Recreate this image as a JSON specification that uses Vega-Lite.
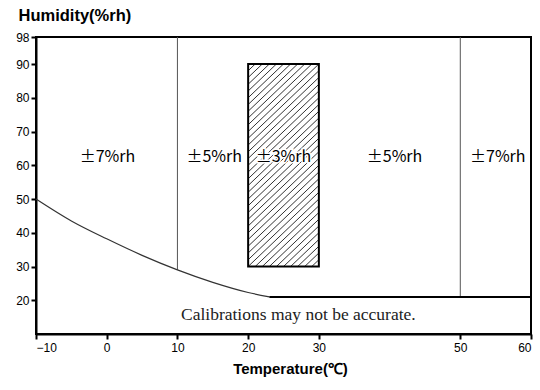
{
  "$schema": "https://vega.github.io/schema/vega-lite/v6.json",
  "width": 495,
  "height": 297,
  "autosize": "none",
  "padding": {"left": 36, "top": 37, "right": 9, "bottom": 56},
  "background": "white",
  "config": {
    "view": {"stroke": "black", "strokeWidth": 2},
    "axis": {
      "grid": false,
      "domainColor": "black",
      "domainWidth": 2,
      "tickColor": "black",
      "tickWidth": 2,
      "tickSize": 5,
      "labelFont": "Liberation Sans",
      "labelFontSize": 12,
      "labelColor": "black",
      "labelOverlap": false,
      "titleFont": "Liberation Sans",
      "titleFontSize": 15,
      "titleFontWeight": "bold",
      "titleColor": "black"
    }
  },
  "datasets": {
    "curve": [
      {"x": -10, "y": 50}, {"x": -5, "y": 43.5}, {"x": 0, "y": 38.2}, {"x": 5, "y": 33.3},
      {"x": 10, "y": 29}, {"x": 15, "y": 25.3}, {"x": 20, "y": 22.3}, {"x": 23, "y": 21}
    ],
    "flat": [{"x": 23, "y": 21}, {"x": 60, "y": 21}],
    "vlines": [{"x": 10, "y": 29, "y2": 98}, {"x": 50, "y": 21, "y2": 98}],
    "box": [{"x": 20, "x2": 30, "y": 30, "y2": 90}],
    "hatch": [
      {"x": 29, "y": 30, "x2": 30, "y2": 32},
      {"x": 28, "y": 30, "x2": 30, "y2": 34},
      {"x": 27, "y": 30, "x2": 30, "y2": 36},
      {"x": 26, "y": 30, "x2": 30, "y2": 38},
      {"x": 25, "y": 30, "x2": 30, "y2": 40},
      {"x": 24, "y": 30, "x2": 30, "y2": 42},
      {"x": 23, "y": 30, "x2": 30, "y2": 44},
      {"x": 22, "y": 30, "x2": 30, "y2": 46},
      {"x": 21, "y": 30, "x2": 30, "y2": 48},
      {"x": 20, "y": 30, "x2": 30, "y2": 50},
      {"x": 20, "y": 32, "x2": 30, "y2": 52},
      {"x": 20, "y": 34, "x2": 30, "y2": 54},
      {"x": 20, "y": 36, "x2": 30, "y2": 56},
      {"x": 20, "y": 38, "x2": 30, "y2": 58},
      {"x": 20, "y": 40, "x2": 30, "y2": 60},
      {"x": 20, "y": 42, "x2": 30, "y2": 62},
      {"x": 20, "y": 44, "x2": 30, "y2": 64},
      {"x": 20, "y": 46, "x2": 30, "y2": 66},
      {"x": 20, "y": 48, "x2": 30, "y2": 68},
      {"x": 20, "y": 50, "x2": 30, "y2": 70},
      {"x": 20, "y": 52, "x2": 30, "y2": 72},
      {"x": 20, "y": 54, "x2": 30, "y2": 74},
      {"x": 20, "y": 56, "x2": 30, "y2": 76},
      {"x": 20, "y": 58, "x2": 30, "y2": 78},
      {"x": 20, "y": 60, "x2": 30, "y2": 80},
      {"x": 20, "y": 62, "x2": 30, "y2": 82},
      {"x": 20, "y": 64, "x2": 30, "y2": 84},
      {"x": 20, "y": 66, "x2": 30, "y2": 86},
      {"x": 20, "y": 68, "x2": 30, "y2": 88},
      {"x": 20, "y": 70, "x2": 30, "y2": 90},
      {"x": 20, "y": 72, "x2": 29, "y2": 90},
      {"x": 20, "y": 74, "x2": 28, "y2": 90},
      {"x": 20, "y": 76, "x2": 27, "y2": 90},
      {"x": 20, "y": 78, "x2": 26, "y2": 90},
      {"x": 20, "y": 80, "x2": 25, "y2": 90},
      {"x": 20, "y": 82, "x2": 24, "y2": 90},
      {"x": 20, "y": 84, "x2": 23, "y2": 90},
      {"x": 20, "y": 86, "x2": 22, "y2": 90},
      {"x": 20, "y": 88, "x2": 21, "y2": 90}
    ],
    "labels": [
      {"x": 0.1, "y": 62.3, "t": "±7%rh"},
      {"x": 15.2, "y": 62.3, "t": "±5%rh"},
      {"x": 25, "y": 62.3, "t": "±3%rh"},
      {"x": 40.7, "y": 62.3, "t": "±5%rh"},
      {"x": 55.3, "y": 62.3, "t": "±7%rh"}
    ],
    "note": [{"x": 27.1, "y": 15.6, "t": "Calibrations may not be accurate."}]
  },
  "layer": [
    {
      "data": {"name": "hatch"},
      "mark": {"type": "rule", "color": "#333333", "strokeWidth": 1},
      "encoding": {
        "x": {"field": "x", "type": "quantitative", "scale": {"domain": [-10, 60], "nice": false, "zero": false},
          "axis": {"values": [-10, 0, 10, 20, 30, 50, 60], "tickCount": 30, "title": "Temperature(℃)", "titleX": 254, "titleY": 34, "titleBaseline": "middle", "labelPadding": 3}},
        "y": {"field": "y", "type": "quantitative", "scale": {"domain": [10, 98], "nice": false, "zero": false},
          "axis": {"values": [20, 30, 40, 50, 60, 70, 80, 90, 98], "tickCount": 30, "title": "Humidity(%rh)", "titleFontSize": 16.5, "titleAngle": 0, "titleAlign": "left", "titleBaseline": "middle", "titleX": -18, "titleY": -22, "labelPadding": 2}},
        "x2": {"field": "x2"},
        "y2": {"field": "y2"}
      }
    },
    {
      "data": {"name": "box"},
      "mark": {"type": "rect", "fill": null, "fillOpacity": 0, "stroke": "black", "strokeWidth": 2},
      "encoding": {
        "x": {"field": "x", "type": "quantitative"},
        "x2": {"field": "x2"},
        "y": {"field": "y", "type": "quantitative"},
        "y2": {"field": "y2"}
      }
    },
    {
      "data": {"name": "vlines"},
      "mark": {"type": "rule", "color": "#555555", "strokeWidth": 1},
      "encoding": {
        "x": {"field": "x", "type": "quantitative"},
        "y": {"field": "y", "type": "quantitative"},
        "y2": {"field": "y2"}
      }
    },
    {
      "data": {"name": "curve"},
      "mark": {"type": "line", "color": "#333333", "strokeWidth": 1.2, "interpolate": "monotone"},
      "encoding": {
        "x": {"field": "x", "type": "quantitative"},
        "y": {"field": "y", "type": "quantitative"}
      }
    },
    {
      "data": {"name": "flat"},
      "mark": {"type": "line", "color": "black", "strokeWidth": 2},
      "encoding": {
        "x": {"field": "x", "type": "quantitative"},
        "y": {"field": "y", "type": "quantitative"}
      }
    },
    {
      "data": {"name": "labels"},
      "mark": {"type": "text", "font": "Noto Sans CJK JP", "fontSize": 16, "color": "white", "stroke": "white", "strokeWidth": 3, "align": "center", "baseline": "middle"},
      "encoding": {
        "x": {"field": "x", "type": "quantitative"},
        "y": {"field": "y", "type": "quantitative"},
        "text": {"field": "t"}
      }
    },
    {
      "data": {"name": "labels"},
      "mark": {"type": "text", "font": "Noto Sans CJK JP", "fontSize": 16, "color": "black", "align": "center", "baseline": "middle"},
      "encoding": {
        "x": {"field": "x", "type": "quantitative"},
        "y": {"field": "y", "type": "quantitative"},
        "text": {"field": "t"}
      }
    },
    {
      "data": {"name": "note"},
      "mark": {"type": "text", "font": "Liberation Serif", "fontSize": 17.5, "color": "#222222", "align": "center", "baseline": "middle"},
      "encoding": {
        "x": {"field": "x", "type": "quantitative"},
        "y": {"field": "y", "type": "quantitative"},
        "text": {"field": "t"}
      }
    }
  ]
}
